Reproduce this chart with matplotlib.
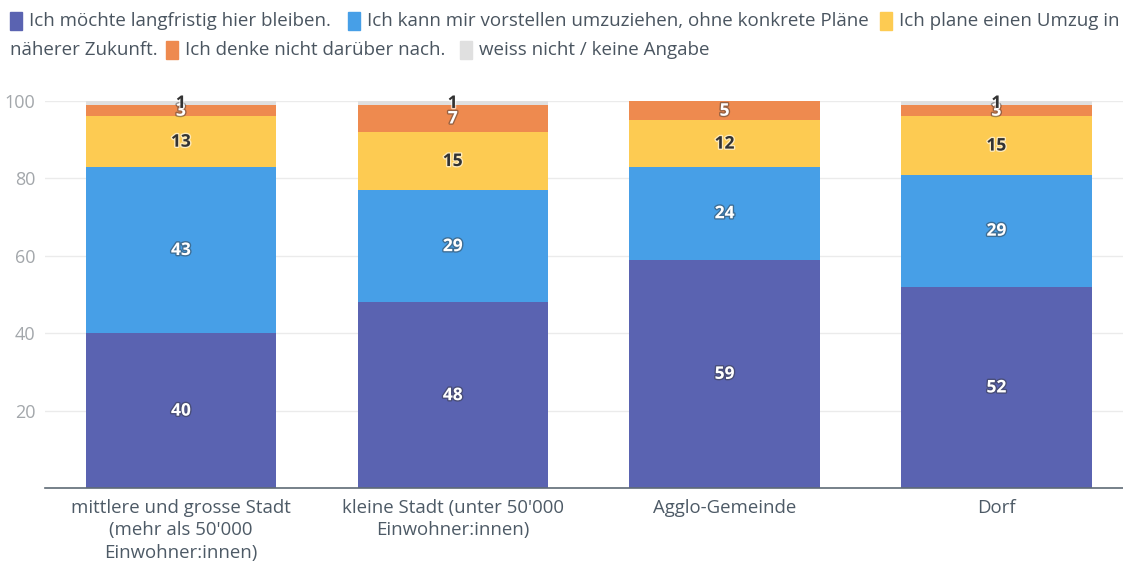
import numpy as np
import matplotlib.pyplot as plt
import matplotlib.patheffects as pe
from matplotlib.patches import Rectangle

# data
categories = [
    "mittlere und grosse Stadt\n(mehr als 50'000\nEinwohner:innen)",
    "kleine Stadt (unter 50'000\nEinwohner:innen)",
    "Agglo-Gemeinde",
    "Dorf",
]
series_names = [
    "Ich möchte langfristig hier bleiben.",
    "Ich kann mir vorstellen umzuziehen, ohne konkrete Pläne",
    "Ich plane einen Umzug in näherer Zukunft.",
    "Ich denke nicht darüber nach.",
    "weiss nicht / keine Angabe",
]
bleiben = [40, 48, 59, 52]
vorstellen = [43, 29, 24, 29]
umzug = [13, 15, 12, 15]
nicht_nach = [3, 7, 5, 3]
weiss_nicht = [1, 1, 0, 1]
series = [bleiben, vorstellen, umzug, nicht_nach, weiss_nicht]

colors = ["#5a63b1", "#479fe7", "#fdcb52", "#ee8a4f", "#e0e0e0"]
label_dark = [False, False, True, False, True]

plt.rcParams['font.family'] = ['Open Sans', 'DejaVu Sans']

W, H = 1123, 562
fig = plt.figure(figsize=(W / 100, H / 100), dpi=100)
ax = fig.add_axes([45 / W, 1 - 488 / H, 1 - 45 / W, (488 - 101) / H])

x = np.arange(len(categories))
bottom = np.zeros(len(categories))
for vals, col, dark in zip(series, colors, label_dark):
    vals = np.array(vals, dtype=float)
    ax.bar(x, vals, width=0.7, bottom=bottom, color=col, zorder=2, linewidth=0)
    for xi, v, b in zip(x, vals, bottom):
        if v <= 0:
            continue
        if dark:
            ax.text(xi, b + v / 2, f"{int(v)}", ha="center", va="center",
                    fontsize=12.5, fontweight="bold", color="#333333", zorder=4,
                    path_effects=[pe.withStroke(linewidth=2, foreground="white", alpha=0.6)])
        else:
            ax.text(xi, b + v / 2, f"{int(v)}", ha="center", va="center",
                    fontsize=12.5, fontweight="bold", color="white", zorder=4,
                    path_effects=[pe.withStroke(linewidth=2, foreground="#333333", alpha=0.45)])
    bottom += vals

ax.set_xlim(-0.5, (W - 181) / 271.8)
ax.set_ylim(0, 100)
ax.set_yticks([20, 40, 60, 80, 100])
ax.set_xticks(x)
ax.set_xticklabels(categories, fontsize=13.4, color="#4d5a66", linespacing=1.3)
ax.tick_params(axis="y", length=0, labelsize=13, labelcolor="#a3a7ab", pad=7)
ax.tick_params(axis="x", length=0, pad=8)
ax.grid(axis="y", color="#ebebeb", linewidth=1, zorder=0)
for s in ["top", "right", "left"]:
    ax.spines[s].set_visible(False)
ax.spines["bottom"].set_color("#5f6b75")
ax.spines["bottom"].set_linewidth(1.2)
ax.spines["bottom"].set_zorder(3)

# legend, drawn manually to wrap like the original
leg_color = "#4a5560"
fs = 13.5

def legend_item(px, py, col, txt):
    fig.patches.append(Rectangle((px / W, 1 - (py + 9) / H), 12 / W, 18 / H,
                                 transform=fig.transFigure, color=col))
    fig.text((px + 19) / W, 1 - py / H, txt, fontsize=fs, color=leg_color,
             ha="left", va="center")

legend_item(10, 21, colors[0], series_names[0])
legend_item(348, 21, colors[1], series_names[1])
legend_item(880, 21, colors[2], "Ich plane einen Umzug in")
fig.text(10 / W, 1 - 50 / H, "näherer Zukunft.", fontsize=fs, color=leg_color,
         ha="left", va="center")
legend_item(166, 50, colors[3], series_names[3])
legend_item(460, 50, colors[4], series_names[4])

fig.savefig("out.png", dpi=100)
